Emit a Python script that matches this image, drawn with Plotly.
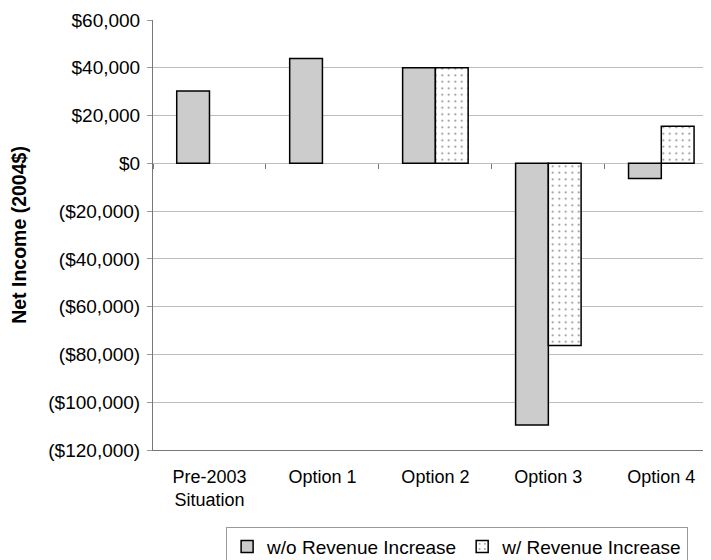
import plotly.graph_objects as go

categories = ["Pre-2003<br>Situation", "Option 1", "Option 2", "Option 3", "Option 4"]
without_increase = [30300, 43900, 40000, -109500, -6300]
with_increase = [None, None, 40000, -76300, 15500]
series_names = ["w/o Revenue Increase", "w/ Revenue Increase"]
y_tickvals = [60000, 40000, 20000, 0, -20000, -40000, -60000, -80000, -100000, -120000]
y_ticktext = ["$60,000", "$40,000", "$20,000", "$0", "($20,000)", "($40,000)",
              "($60,000)", "($80,000)", "($100,000)", "($120,000)"]
y_title = "Net Income (2004$)"

FONT = "Liberation Sans, Arial, sans-serif"
y_min, y_max = -120000, 60000
x_range = [-0.5, 4.44]

fig = go.Figure()
fig.add_trace(go.Bar(
    x=categories, y=without_increase, name=series_names[0],
    marker=dict(color="#d0d0d0",
                line=dict(color="black", width=1.5),
                pattern=dict(shape=".", bgcolor="#e2e2e2", fgcolor="#707070",
                             size=2, solidity=0.45)),
))
fig.add_trace(go.Bar(
    x=categories, y=with_increase, name=series_names[1],
    marker=dict(color="white",
                line=dict(color="black", width=1.5),
                pattern=dict(shape=".", bgcolor="white", fgcolor="#000000",
                             size=6.5, solidity=0.07)),
))
# invisible trace to carry the tick axis crossing at zero
fig.add_trace(go.Bar(x=categories, y=[None] * len(categories), xaxis="x2",
                     showlegend=False, hoverinfo="skip"))

fig.update_layout(
    width=703, height=552,
    margin=dict(l=145, r=0, t=12, b=110, autoexpand=False),
    paper_bgcolor="white", plot_bgcolor="white",
    font=dict(family=FONT, size=18, color="black"),
    barmode="group", bargap=0.42, bargroupgap=0,
    showlegend=True,
    legend=dict(orientation="h", x=0.545, xanchor="center", y=-0.178, yanchor="top",
                bordercolor="#9a9a9a", borderwidth=1, bgcolor="white",
                font=dict(family=FONT, size=19), itemwidth=30,
                tracegroupgap=0),
    xaxis=dict(type="category", categoryarray=categories, range=x_range,
               showgrid=False, showline=True, linecolor="#777777", linewidth=1,
               ticks="", ticklabelstandoff=10, zeroline=False, automargin=False,
               tickfont=dict(family=FONT, size=18)),
    xaxis2=dict(type="category", categoryarray=categories, range=x_range,
                overlaying="x", anchor="free",
                position=(0 - y_min) / (y_max - y_min),
                showticklabels=False, showgrid=False, showline=False,
                ticks="outside", tickson="boundaries", ticklen=5,
                tickcolor="#777777", tickwidth=1),
    yaxis=dict(range=[y_min, y_max], tickvals=y_tickvals, ticktext=y_ticktext,
               showgrid=True, gridcolor="#bdbdbd", gridwidth=1,
               zeroline=True, zerolinecolor="#bdbdbd", zerolinewidth=1,
               showline=True, linecolor="#777777", linewidth=1,
               ticks="outside", ticklen=5, tickcolor="#999999",
               ticklabelstandoff=3, automargin=False,
               tickfont=dict(family=FONT, size=19),
               title=dict(text="<b>" + y_title + "</b>", standoff=19,
                          font=dict(family=FONT, size=19.5))),
)

fig.write_html("out.html")
